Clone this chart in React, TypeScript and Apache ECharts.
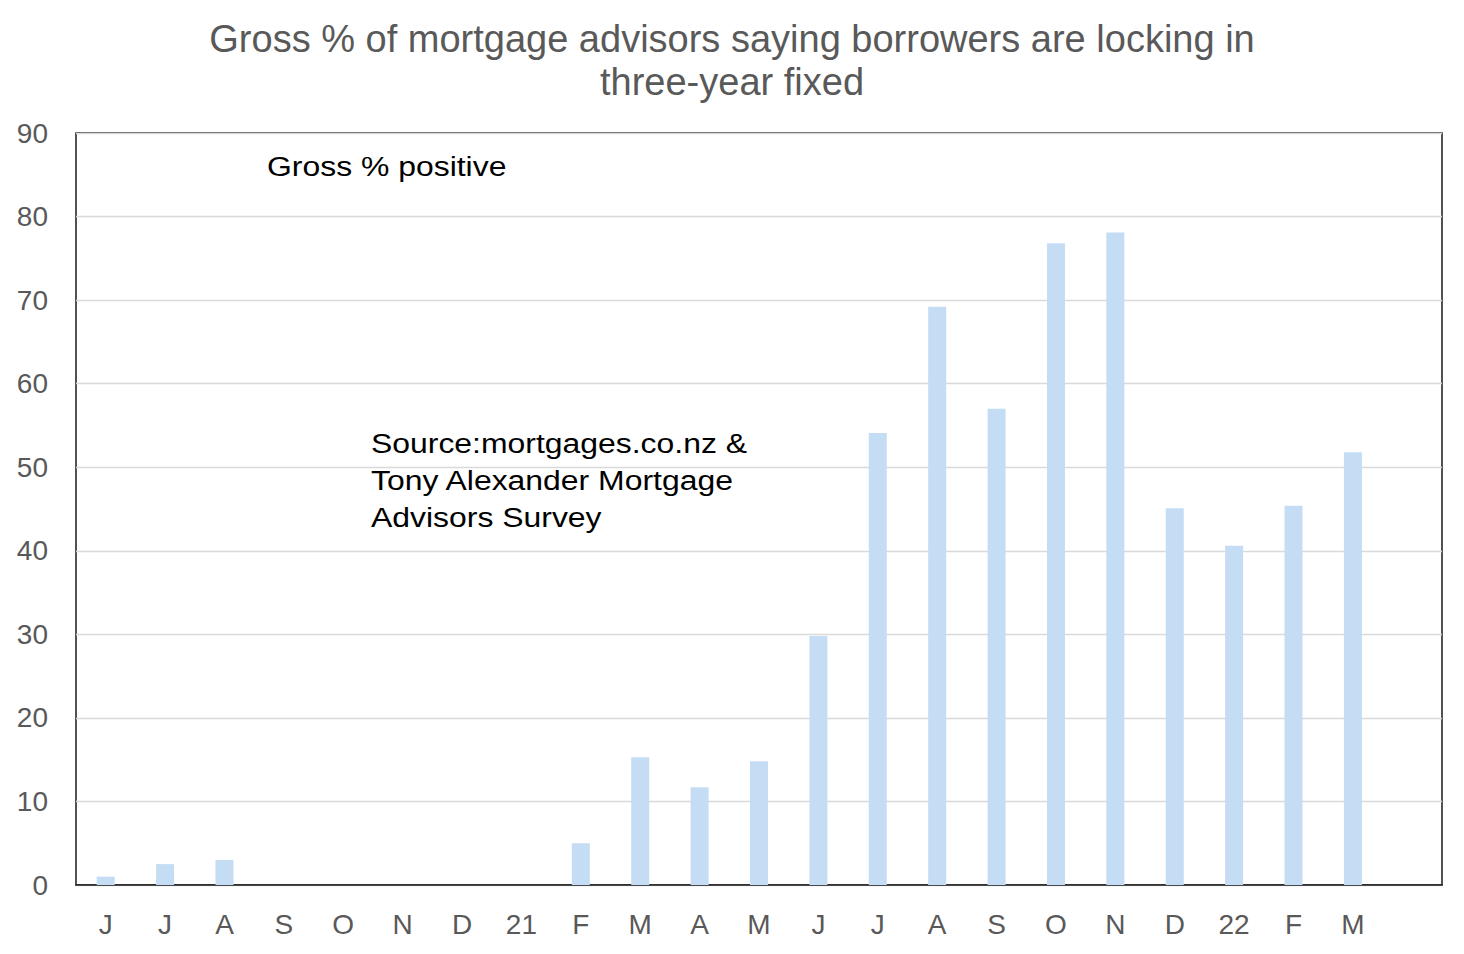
import React, { useEffect, useRef } from "react";
import * as echarts from "echarts";

const categories = ["J", "J", "A", "S", "O", "N", "D", "21", "F", "M", "A", "M", "J", "J", "A", "S", "O", "N", "D", "22", "F", "M", ""];
const grossPositive = [1, 2.5, 3, 0, 0, 0, 0, 0, 5, 15.3, 11.7, 14.8, 29.8, 54.1, 69.2, 57, 76.8, 78.1, 45.1, 40.6, 45.4, 51.8, null];
const titleLines = ["Gross % of mortgage advisors saying borrowers are locking in", "three-year fixed"];
const seriesLabel = "Gross % positive";
const sourceLines = ["Source:mortgages.co.nz &", "Tony Alexander Mortgage", "Advisors Survey"];

const FONT = "'Liberation Sans', Arial, sans-serif";

export default function App() {
  const ref = useRef<HTMLDivElement>(null);
  useEffect(() => {
    if (!ref.current) return;
    const chart = echarts.init(ref.current, null, { renderer: "svg" });
    chart.setOption({
      animation: false,
      backgroundColor: "#ffffff",
      title: {
        text: titleLines.join("\n"),
        left: "center",
        top: 12,
        textStyle: { fontFamily: FONT, fontSize: 38, fontWeight: "normal", color: "#595959", lineHeight: 43 },
      },
      grid: {
        left: 76,
        right: 22,
        top: 133,
        bottom: 69,
        show: true,
        borderColor: "#1a1a1a",
        borderWidth: 1.5,
        backgroundColor: "transparent",
      },
      xAxis: {
        type: "category",
        data: categories,
        axisLine: { show: true, lineStyle: { color: "#1a1a1a", width: 1.5 } },
        axisTick: { show: false },
        axisLabel: { interval: 0, fontFamily: FONT, fontSize: 28, color: "#595959", margin: 25 },
      },
      yAxis: {
        type: "value",
        min: 0,
        max: 90,
        interval: 10,
        axisLine: { show: false },
        axisTick: { show: false },
        splitLine: { lineStyle: { color: "#d9d9d9", width: 1.3 } },
        axisLabel: { fontFamily: FONT, fontSize: 28, color: "#595959", margin: 28 },
      },
      series: [
        {
          name: seriesLabel,
          type: "bar",
          data: grossPositive,
          barWidth: 18,
          itemStyle: { color: "#c4dcf4" },
        },
      ],
      graphic: [
        {
          type: "text",
          x: 267,
          y: 166,
          scaleX: 1.14,
          style: { text: seriesLabel, font: `28px ${FONT}`, fill: "#000000", align: "left", verticalAlign: "middle" },
        },
        {
          type: "text",
          x: 371,
          y: 425,
          scaleX: 1.14,
          style: {
            text: sourceLines.join("\n"),
            font: `28px ${FONT}`,
            fill: "#000000",
            lineHeight: 37,
            align: "left",
            verticalAlign: "top",
          },
        },
      ],
    });
    return () => chart.dispose();
  }, []);
  return <div ref={ref} style={{ position: "fixed", left: 0, top: 0, width: 1464, height: 954 }} />;
}
